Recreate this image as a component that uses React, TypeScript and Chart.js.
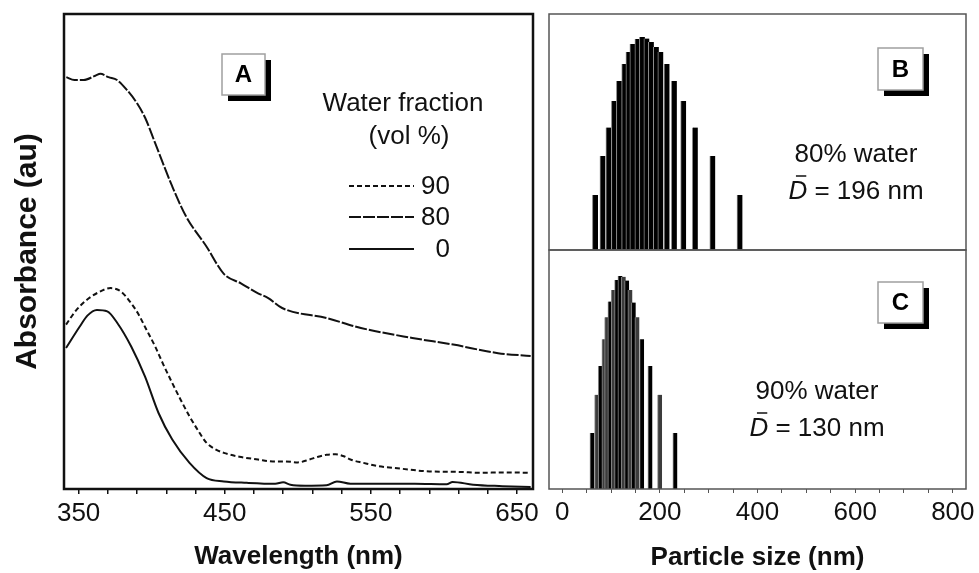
import React, { useEffect, useRef } from "react";
import { Chart, registerables } from "chart.js";

Chart.register(...registerables);

const FONT = '"Liberation Sans", Arial, Helvetica, sans-serif';

// ---------- Panel A: absorbance spectra ----------
const wl90 = [341.4, 348, 355.5, 363, 371.9, 378.9, 385, 390.6, 396, 402.4, 408, 414.1, 420, 425.9, 432, 437.6, 444, 449.4, 460, 472.8, 483, 491.6, 500, 508, 514, 519.7, 526, 531.5, 536.1, 545, 555, 570, 590.1, 610, 625.4, 640, 659.4];
const abs90 = [34.6, 37.5, 39.8, 41.3, 42.3, 41.6, 39.5, 37.0, 33.8, 30.0, 26.2, 22.3, 18.7, 15.3, 12.2, 9.7, 8.3, 7.6, 6.8, 6.2, 5.8, 5.8, 5.6, 6.2, 6.8, 7.2, 7.3, 6.9, 6.2, 5.5, 4.8, 4.3, 3.7, 3.6, 3.4, 3.5, 3.4];

const wl80 = [341.6, 347.1, 353.4, 361.4, 364.9, 370.5, 376.3, 383.1, 390, 395.6, 402.4, 414.1, 423.5, 437.6, 449.4, 461.1, 472.8, 479.8, 489.3, 519.7, 543.2, 578.4, 606.4, 637.1, 659.4];
const abs80 = [86.7, 86.1, 86.1, 87.0, 87.4, 86.7, 86.1, 84.0, 81.2, 78.1, 72.8, 63.7, 57.4, 51.0, 45.3, 43.3, 41.2, 40.2, 38.1, 36.0, 33.9, 31.8, 30.4, 28.6, 28.0];

const wl0 = [341.4, 350.8, 356, 362.5, 369.6, 376.6, 386, 395.4, 404.7, 414.1, 425.9, 437.6, 449.4, 465, 484.6, 490, 495, 505, 519.7, 526.8, 536, 555, 580, 601.9, 606, 620, 640, 659.4];
const abs0 = [29.7, 34.2, 36.5, 37.7, 37.4, 34.9, 30.0, 23.7, 16.0, 10.4, 5.5, 2.3, 1.6, 1.3, 1.1, 1.4, 0.9, 0.7, 0.8, 1.6, 1.1, 1.1, 1.1, 1.0, 1.5, 0.9, 0.6, 0.4];

const seriesNames = ["90", "80", "0"];
const wlTicks = [350, 370, 390, 410, 430, 450, 470, 490, 510, 530, 550, 570, 590, 610, 630, 650];
const wlTickLabels = [350, 450, 550, 650];

// ---------- Panel B: 80% water size distribution ----------
const sizeB = [67.5, 82.9, 95.1, 106.4, 116.6, 127.5, 136.1, 144.2, 154.5, 163.7, 172.9, 182.1, 192.3, 201.5, 214.2, 229.2, 248.2, 272.1, 307.9, 363.6];
const countB = [23.3, 39.8, 51.9, 63.1, 71.6, 78.8, 83.9, 87.3, 89.4, 90.3, 89.6, 88.1, 86.0, 83.9, 78.8, 71.6, 63.1, 51.9, 39.8, 23.3];

// ---------- Panel C: 90% water size distribution ----------
const sizeC = [61.4, 71.0, 78.4, 85.9, 91.5, 98.2, 105.0, 111.9, 118.7, 125.4, 132.4, 139.1, 145.9, 153.5, 163.1, 180.1, 199.9, 231.2];
const countC = [23.4, 39.4, 51.5, 62.7, 71.9, 78.4, 83.3, 87.5, 89.1, 88.8, 87.2, 83.3, 78.0, 71.9, 62.7, 51.5, 39.4, 23.4];

const sizeTicks = [0, 50, 100, 150, 200, 250, 300, 350, 400, 450, 500, 550, 600, 650, 700, 750, 800];
const sizeTickLabels = [0, 200, 400, 600, 800];

const meanB = 196;
const meanC = 130;

// bar shades for panel C (style only)
const barShadesC = ["#000", "#3c3c3c", "#000", "#3c3c3c", "#3c3c3c", "#000", "#3c3c3c", "#000", "#000", "#3c3c3c", "#000", "#3c3c3c", "#000", "#3c3c3c", "#000", "#000", "#3c3c3c", "#000"];

// ---------- drawing helpers ----------
function framePlugin(color: string, width: number) {
  return {
    id: "frame",
    afterDraw(chart: any) {
      const { ctx, chartArea: a } = chart;
      ctx.save();
      ctx.strokeStyle = color;
      ctx.lineWidth = width;
      ctx.strokeRect(a.left, a.top, a.right - a.left, a.bottom - a.top);
      ctx.restore();
    },
  };
}

function drawPanelBox(ctx: CanvasRenderingContext2D, x: number, y: number, w: number, h: number, letter: string) {
  ctx.save();
  ctx.fillStyle = "#000";
  ctx.fillRect(x + 6, y + 6, w, h);
  ctx.fillStyle = "#fff";
  ctx.fillRect(x, y, w, h);
  ctx.strokeStyle = "#a0a0a0";
  ctx.lineWidth = 1.5;
  ctx.strokeRect(x, y, w, h);
  ctx.fillStyle = "#000";
  ctx.font = `bold 24px ${FONT}`;
  ctx.textAlign = "center";
  ctx.textBaseline = "middle";
  ctx.fillText(letter, x + w / 2, y + h / 2 + 1);
  ctx.restore();
}

function drawWaterText(ctx: CanvasRenderingContext2D, cx: number, cy: number, frac: string, mean: number) {
  ctx.save();
  ctx.fillStyle = "#111";
  ctx.textBaseline = "middle";
  ctx.textAlign = "center";
  ctx.font = `26px ${FONT}`;
  ctx.fillText(`${frac}% water`, cx, cy);
  const y2 = cy + 37;
  const fItal = `italic 26px ${FONT}`;
  const fReg = `26px ${FONT}`;
  ctx.font = fItal;
  const wD = ctx.measureText("D").width;
  const rest = ` = ${mean} nm`;
  ctx.font = fReg;
  const wR = ctx.measureText(rest).width;
  const x0 = cx - (wD + wR) / 2;
  ctx.textAlign = "left";
  ctx.font = fItal;
  ctx.fillText("D", x0, y2);
  ctx.font = fReg;
  ctx.fillText(rest, x0 + wD, y2);
  ctx.strokeStyle = "#111";
  ctx.lineWidth = 1.5;
  ctx.beginPath();
  ctx.moveTo(x0 + wD * 0.4, y2 - 16);
  ctx.lineTo(x0 + wD * 0.95, y2 - 16);
  ctx.stroke();
  ctx.restore();
}

const legendPluginA = {
  id: "legendA",
  afterDraw(chart: any) {
    const ctx: CanvasRenderingContext2D = chart.ctx;
    ctx.save();
    ctx.fillStyle = "#111";
    ctx.font = `26px ${FONT}`;
    ctx.textAlign = "center";
    ctx.textBaseline = "middle";
    ctx.fillText("Water fraction", 403, 104);
    ctx.fillText("(vol %)", 409, 137);
    const rowY = [186, 217, 249];
    chart.data.datasets.forEach((ds: any, i: number) => {
      const y = rowY[i];
      ctx.save();
      ctx.strokeStyle = ds.borderColor;
      ctx.lineWidth = 2;
      ctx.setLineDash(ds.borderDash || []);
      ctx.beginPath();
      ctx.moveTo(349, y);
      ctx.lineTo(414, y);
      ctx.stroke();
      ctx.restore();
      ctx.textAlign = "right";
      ctx.fillText(ds.label, 450, y + 1);
    });
    ctx.restore();
    drawPanelBox(ctx, 222, 54, 43, 41, "A");
  },
};

const ORIGIN_B = { x: 540, y: 0 };
const ORIGIN_C = { x: 540, y: 240 };

const annotB = {
  id: "annotB",
  afterDraw(chart: any) {
    const ctx: CanvasRenderingContext2D = chart.ctx;
    drawPanelBox(ctx, 878 - ORIGIN_B.x, 48 - ORIGIN_B.y, 45, 42, "B");
    drawWaterText(ctx, 856 - ORIGIN_B.x, 155 - ORIGIN_B.y, "80", meanB);
  },
};

const annotC = {
  id: "annotC",
  afterDraw(chart: any) {
    const ctx: CanvasRenderingContext2D = chart.ctx;
    drawPanelBox(ctx, 878 - ORIGIN_C.x, 282 - ORIGIN_C.y, 45, 41, "C");
    drawWaterText(ctx, 817 - ORIGIN_C.x, 392 - ORIGIN_C.y, "90", meanC);
  },
};

function ChartCanvas({ left, top, width, height, make }: any) {
  const ref = useRef<HTMLCanvasElement | null>(null);
  useEffect(() => {
    if (!ref.current) return;
    const chart = make(ref.current);
    return () => chart.destroy();
  }, []);
  return (
    <canvas
      ref={ref}
      width={width}
      height={height}
      style={{ position: "absolute", left, top, width, height }}
    />
  );
}

const tickFont = { family: FONT, size: 26 };

function makeA(canvas: HTMLCanvasElement) {
  const dashes = [[5, 3], [12, 2], []];
  const xs = [wl90, wl80, wl0];
  const ys = [abs90, abs80, abs0];
  return new Chart(canvas, {
    type: "line",
    data: {
      datasets: seriesNames.map((name, i) => ({
        label: name,
        data: xs[i].map((x, j) => ({ x, y: ys[i][j] })),
        borderColor: "#111",
        borderWidth: 2,
        borderDash: dashes[i],
        pointRadius: 0,
        fill: false,
        cubicInterpolationMode: "monotone",
      })),
    },
    options: {
      animation: false,
      responsive: false,
      events: [],
      layout: { padding: { left: 0, right: 12, top: 14, bottom: 0 } },
      plugins: { legend: { display: false }, tooltip: { enabled: false } },
      scales: {
        x: {
          type: "linear",
          min: 340,
          max: 661,
          bounds: "data",
          offset: false,
          afterBuildTicks: (s: any) => {
            s.ticks = wlTicks.map((v) => ({ value: v }));
          },
          afterFit: (s: any) => {
            s.height = 84;
          },
          ticks: {
            autoSkip: false,
            maxRotation: 0,
            padding: 4,
            color: "#111",
            font: tickFont,
            callback: (v: any) => (wlTickLabels.includes(Number(v)) ? String(v) : ""),
          },
          grid: { display: true, offset: false, drawOnChartArea: false, drawTicks: true, tickLength: 5, tickColor: "#111", lineWidth: 1.5 },
          border: { display: false },
          title: {
            display: true,
            text: "Wavelength (nm)",
            color: "#111",
            font: { family: FONT, size: 26, weight: "bold", lineHeight: 1 },
            padding: { top: 0, bottom: 3 },
          },
        },
        y: {
          min: 0,
          max: 100,
          afterFit: (s: any) => {
            s.width = 64;
          },
          ticks: { display: false },
          grid: { display: false },
          border: { display: false },
          title: {
            display: true,
            text: "Absorbance (au)",
            color: "#111",
            font: { family: FONT, size: 30, weight: "bold", lineHeight: 1 },
            padding: { top: 13, bottom: 0 },
          },
        },
      },
    },
    plugins: [framePlugin("#111", 2.5), legendPluginA],
  } as any);
}

function makeB(canvas: HTMLCanvasElement) {
  return new Chart(canvas, {
    type: "bar",
    data: {
      datasets: [
        {
          label: "80% water",
          data: sizeB.map((x, i) => ({ x, y: countB[i] })),
          backgroundColor: "#000",
          borderColor: "#8c8c8c",
          borderWidth: { left: 1, right: 0, top: 0, bottom: 0 },
          borderSkipped: false,
          barThickness: 5.5,
        },
      ],
    },
    options: {
      animation: false,
      responsive: false,
      events: [],
      layout: { padding: { left: 9, right: 13, top: 14, bottom: 10 } },
      plugins: { legend: { display: false }, tooltip: { enabled: false } },
      scales: {
        x: { type: "linear", min: -27, max: 827, offset: false, grid: { offset: false }, display: false },
        y: { min: 0, max: 100, display: false },
      },
    },
    plugins: [framePlugin("#555", 1.5), annotB],
  } as any);
}

function makeC(canvas: HTMLCanvasElement) {
  return new Chart(canvas, {
    type: "bar",
    data: {
      datasets: [
        {
          label: "90% water",
          data: sizeC.map((x, i) => ({ x, y: countC[i] })),
          backgroundColor: barShadesC,
          borderColor: "#8c8c8c",
          borderWidth: { left: 1, right: 0, top: 0, bottom: 0 },
          borderSkipped: false,
          barThickness: 4.5,
        },
      ],
    },
    options: {
      animation: false,
      responsive: false,
      events: [],
      layout: { padding: { left: 9, right: 13, top: 10, bottom: 0 } },
      plugins: { legend: { display: false }, tooltip: { enabled: false } },
      scales: {
        x: {
          type: "linear",
          min: -27,
          max: 827,
          bounds: "data",
          offset: false,
          afterBuildTicks: (s: any) => {
            s.ticks = sizeTicks.map((v) => ({ value: v }));
          },
          afterFit: (s: any) => {
            s.height = 84;
          },
          ticks: {
            autoSkip: false,
            maxRotation: 0,
            padding: 4,
            color: "#111",
            font: tickFont,
            callback: (v: any) => (sizeTickLabels.includes(Number(v)) ? String(v) : ""),
          },
          grid: { display: true, offset: false, drawOnChartArea: false, drawTicks: true, tickLength: 4, tickColor: "#555", lineWidth: 1 },
          border: { display: false },
          title: {
            display: true,
            text: "Particle size (nm)",
            color: "#111",
            font: { family: FONT, size: 26, weight: "bold", lineHeight: 1 },
            padding: { top: 0, bottom: 2 },
          },
        },
        y: { min: 0, max: 100, display: false },
      },
    },
    plugins: [framePlugin("#555", 1.5), annotC],
  } as any);
}

export default function App() {
  return (
    <div
      style={{
        position: "fixed",
        left: 0,
        top: 0,
        width: 979,
        height: 573,
        background: "#fff",
        overflow: "hidden",
      }}
    >
      <ChartCanvas left={0} top={0} width={545} height={573} make={makeA} />
      <ChartCanvas left={ORIGIN_B.x} top={ORIGIN_B.y} width={439} height={260} make={makeB} />
      <ChartCanvas left={ORIGIN_C.x} top={ORIGIN_C.y} width={439} height={333} make={makeC} />
    </div>
  );
}
